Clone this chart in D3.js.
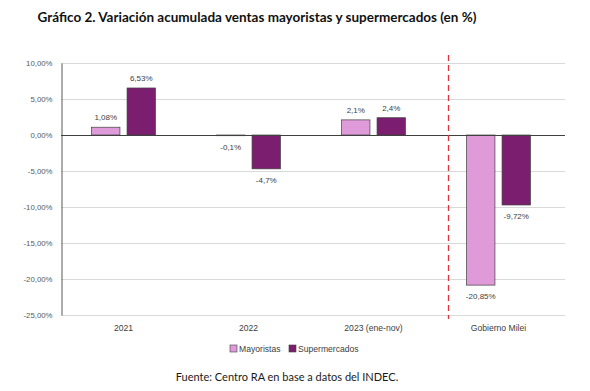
<!DOCTYPE html>
<html>
<head>
<meta charset="utf-8">
<script src="https://cdn.jsdelivr.net/npm/d3@7"></script>
<style>
  body { margin: 0; background: #fff; }
  text { font-family: "Liberation Sans", Arial, sans-serif; }
</style>
</head>
<body>
<div id="chart"></div>
<script>
var categories = ["2021", "2022", "2023 (ene-nov)", "Gobierno Milei"];
var seriesNames = ["Mayoristas", "Supermercados"];
var mayoristas = [1.08, -0.1, 2.1, -20.85];
var supermercados = [6.53, -4.7, 2.4, -9.72];
var labelsMay = ["1,08%", "-0,1%", "2,1%", "-20,85%"];
var labelsSup = ["6,53%", "-4,7%", "2,4%", "-9,72%"];
var yTicks = [10, 5, 0, -5, -10, -15, -20, -25];
var colors = ["#df9bd9", "#7b1e6f"];

var W = 590, H = 391;
var margin = {top: 63, right: 29, bottom: 76, left: 61};

var svg = d3.select("#chart").append("svg")
    .attr("width", W)
    .attr("height", H);

var x = d3.scaleBand()
    .domain(categories)
    .range([margin.left, W - margin.right])
    .paddingInner(0)
    .paddingOuter(0);

var xs = d3.scaleBand()
    .domain(seriesNames)
    .range([0, x.bandwidth()])
    .paddingInner(0.2)
    .paddingOuter(0.86);

var y = d3.scaleLinear()
    .domain([-25, 10])
    .range([H - margin.bottom, margin.top]);

// hyphen instead of unicode minus, comma decimal
var fmt = function(d) { return d.toFixed(2).replace(".", ",") + "%"; };

// title
svg.append("text")
    .attr("x", 257).attr("y", 22)
    .attr("text-anchor", "middle")
    .style("font-family", "Lato, 'Open Sans', sans-serif")
    .style("font-weight", "bold")
    .style("font-size", "13.5px")
    .style("fill", "#111")
    .text("Gráfico 2. Variación acumulada ventas mayoristas y supermercados (en %)");

// gridlines
svg.append("g")
    .selectAll("line")
    .data(yTicks)
    .join("line")
    .attr("x1", margin.left).attr("x2", W - margin.right + 4)
    .attr("y1", function(d) { return Math.round(y(d)) + 0.5; })
    .attr("y2", function(d) { return Math.round(y(d)) + 0.5; })
    .attr("stroke", "#d9d9d9")
    .attr("stroke-width", 1);

// y axis
var yAxis = svg.append("g")
    .attr("transform", "translate(" + (margin.left + 0.5) + ",0)")
    .call(d3.axisLeft(y).tickValues(yTicks).tickSize(0).tickPadding(9).tickFormat(fmt));
yAxis.select(".domain").attr("stroke", "#595959");
yAxis.selectAll("text")
    .style("font-family", "'Liberation Sans', Arial, sans-serif")
    .style("font-size", "7.8px")
    .style("fill", "#595959");

// bars
var rows = categories.map(function(c, i) {
    return {cat: c, vals: [
        {s: seriesNames[0], v: mayoristas[i], label: labelsMay[i]},
        {s: seriesNames[1], v: supermercados[i], label: labelsSup[i]}
    ]};
});

var groups = svg.append("g").selectAll("g")
    .data(rows)
    .join("g")
    .attr("transform", function(d) { return "translate(" + x(d.cat) + ",0)"; });

groups.selectAll("rect")
    .data(function(d) { return d.vals; })
    .join("rect")
    .attr("x", function(d) { return xs(d.s); })
    .attr("width", xs.bandwidth())
    .attr("y", function(d) { return y(Math.max(0, d.v)); })
    .attr("height", function(d) { return Math.abs(y(d.v) - y(0)); })
    .attr("fill", function(d, i) { return colors[i]; })
    .attr("stroke", "#404040")
    .attr("stroke-width", 0.7);

groups.selectAll("text")
    .data(function(d) { return d.vals; })
    .join("text")
    .attr("x", function(d) { return xs(d.s) + xs.bandwidth() / 2; })
    .attr("y", function(d) { return d.v >= 0 ? y(d.v) - 7 : y(d.v) + 14; })
    .attr("text-anchor", "middle")
    .style("font-size", "8px")
    .style("fill", "#404040")
    .text(function(d) { return d.label; });

// zero line
svg.append("line")
    .attr("x1", margin.left).attr("x2", W - margin.right + 4)
    .attr("y1", Math.round(y(0)) + 0.5).attr("y2", Math.round(y(0)) + 0.5)
    .attr("stroke", "#404040")
    .attr("stroke-width", 1);

// separator
var sepX = x(categories[3]) + x.bandwidth() * 0.1;
svg.append("line")
    .attr("x1", sepX).attr("x2", sepX)
    .attr("y1", 55).attr("y2", y(-25) + 4)
    .attr("stroke", "#e0303a")
    .attr("stroke-width", 1.3)
    .attr("stroke-dasharray", "6,4");

// category labels
svg.append("g").selectAll("text")
    .data(categories)
    .join("text")
    .attr("x", function(d) { return x(d) + x.bandwidth() / 2; })
    .attr("y", y(-25) + 16)
    .attr("text-anchor", "middle")
    .style("font-size", "8.6px")
    .style("fill", "#404040")
    .text(function(d) { return d; });

// legend
var legendX = [230, 289];
var leg = svg.append("g").selectAll("g")
    .data(seriesNames)
    .join("g")
    .attr("transform", function(d, i) { return "translate(" + legendX[i] + ",345)"; });
leg.append("rect")
    .attr("width", 7).attr("height", 7)
    .attr("fill", function(d, i) { return colors[i]; })
    .attr("stroke", "#404040").attr("stroke-width", 0.6);
leg.append("text")
    .attr("x", 9).attr("y", 7)
    .style("font-size", "8.6px")
    .style("fill", "#404040")
    .text(function(d) { return d; });

// source
svg.append("text")
    .attr("x", 287).attr("y", 381)
    .attr("text-anchor", "middle")
    .style("font-family", "Lato, 'Open Sans', sans-serif")
    .style("font-size", "11px")
    .style("fill", "#1a1a1a")
    .text("Fuente: Centro RA en base a datos del INDEC.");
</script>
</body>
</html>
